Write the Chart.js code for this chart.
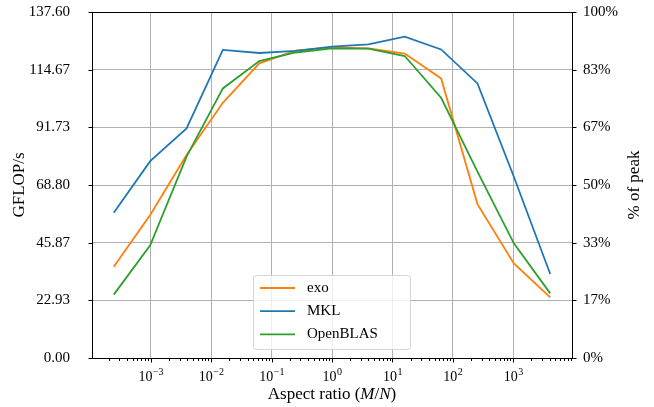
<!DOCTYPE html>
<html>
<head>
<meta charset="utf-8">
<title>GEMM aspect ratio</title>
<script src="https://cdn.jsdelivr.net/npm/chart.js@4.4.0/dist/chart.umd.min.js"></script>
<style>
    html, body { margin: 0; padding: 0; background: #fff; }
    #wrap { width: 654px; height: 407px; }
</style>
</head>
<body>
<div id="wrap"><canvas id="chart" width="654" height="407"></canvas></div>
<script>
// Aspect ratios M/N measured (powers of 4)
const aspectRatios = [0.000244, 0.000977, 0.00391, 0.0156, 0.0625, 0.25, 1, 4, 16, 64, 256, 1024, 4096];

// GFLOP/s per library
const exoGflops      = [36.3, 56.9, 80.7, 101.5, 117.2, 122.2, 123.5, 123.1, 121.1, 111.2, 61.2, 37.6, 24.1];
const mklGflops      = [57.8, 78.3, 91.3, 122.5, 121.3, 122.1, 123.8, 124.7, 127.8, 122.7, 109.2, 72.1, 33.4];
const openblasGflops = [25.2, 44.8, 80.1, 107.2, 118.1, 121.5, 123.1, 123.0, 120.1, 103.5, 74.1, 45.6, 25.7];

const seriesLabels = ['exo', 'MKL', 'OpenBLAS'];
const seriesColors = ['#ff7f0e', '#1f77b4', '#2ca02c'];

// Tick values
const gflopTicks = [0, 22.93, 45.87, 68.80, 91.73, 114.67, 137.60];
const peakTicks = [0, 16.67, 33.33, 50, 66.67, 83.33, 100];
const ratioTicks = [1e-3, 1e-2, 1e-1, 1, 10, 100, 1000];

const SERIF = '"Liberation Serif", "DejaVu Serif", serif';

/**
 * Draws spines, tick marks, the x tick labels (10^k), axis titles and legend
 */
const axisDecor = {
    id: 'axisDecor',
    afterDraw(chart) {
        const ctx = chart.ctx;
        const area = chart.chartArea;
        const xs = chart.scales.x;
        const yl = chart.scales.y;
        const yr = chart.scales.y2;
        const L = Math.round(area.left) + 0.5;
        const R = Math.round(area.right) + 0.5;
        const T = Math.round(area.top) + 0.5;
        const B = Math.round(area.bottom) + 0.5;

        ctx.save();
        ctx.strokeStyle = '#000';
        ctx.lineWidth = 1;

        // tick marks
        ctx.beginPath();
        gflopTicks.forEach(v => {
            const py = Math.round(yl.getPixelForValue(v)) + 0.5;
            ctx.moveTo(L - 4, py); ctx.lineTo(L, py);
        });
        peakTicks.forEach(v => {
            const py = Math.round(yr.getPixelForValue(v)) + 0.5;
            ctx.moveTo(R, py); ctx.lineTo(R + 4, py);
        });
        ratioTicks.forEach(v => {
            const px = Math.round(xs.getPixelForValue(v)) + 0.5;
            ctx.moveTo(px, B); ctx.lineTo(px, B + 4);
        });
        // minor log ticks
        for (let k = -4; k <= 3; k++) {
            for (let m = 2; m <= 9; m++) {
                const v = m * Math.pow(10, k);
                if (v < xs.min || v > xs.max) continue;
                const px = Math.round(xs.getPixelForValue(v)) + 0.5;
                ctx.moveTo(px, B); ctx.lineTo(px, B + 2.5);
            }
        }
        ctx.stroke();

        // spines
        ctx.strokeRect(L, T, R - L, B - T);

        // x tick labels as 10^k
        ctx.fillStyle = '#000';
        ctx.textBaseline = 'alphabetic';
        ctx.textAlign = 'left';
        ratioTicks.forEach(v => {
            const px = xs.getPixelForValue(v);
            const e = Math.round(Math.log10(v));
            const expText = e < 0 ? '\u2212' + Math.abs(e) : String(e);
            ctx.font = '14px ' + SERIF;
            const w1 = ctx.measureText('10').width;
            ctx.font = '10px ' + SERIF;
            const w2 = ctx.measureText(expText).width;
            const x0 = px - (w1 + w2) / 2;
            ctx.font = '14px ' + SERIF;
            ctx.fillText('10', x0, 381);
            ctx.font = '10px ' + SERIF;
            ctx.fillText(expText, x0 + w1 + 0.5, 375);
        });

        // x axis title with italic M/N
        const parts = [['Aspect ratio (', ''], ['M', 'italic '], ['/', ''], ['N', 'italic '], [')', '']];
        let total = 0;
        parts.forEach(p => { ctx.font = p[1] + '17px ' + SERIF; total += ctx.measureText(p[0]).width; });
        let cx = (area.left + area.right) / 2 - total / 2;
        parts.forEach(p => {
            ctx.font = p[1] + '17px ' + SERIF;
            ctx.fillText(p[0], cx, 399);
            cx += ctx.measureText(p[0]).width;
        });

        // y axis titles
        const midY = (area.top + area.bottom) / 2;
        ctx.font = '17px ' + SERIF;
        ctx.textAlign = 'center';
        ctx.textBaseline = 'middle';
        ctx.save();
        ctx.translate(20, midY);
        ctx.rotate(-Math.PI / 2);
        ctx.fillText('GFLOP/s', 0, 0);
        ctx.restore();
        ctx.save();
        ctx.translate(635, midY);
        ctx.rotate(-Math.PI / 2);
        ctx.fillText('% of peak', 0, 0);
        ctx.restore();

        // legend box
        const bx = 253.5, by = 275.5, bw = 157, bh = 74, r = 3;
        ctx.beginPath();
        ctx.moveTo(bx + r, by);
        ctx.arcTo(bx + bw, by, bx + bw, by + bh, r);
        ctx.arcTo(bx + bw, by + bh, bx, by + bh, r);
        ctx.arcTo(bx, by + bh, bx, by, r);
        ctx.arcTo(bx, by, bx + bw, by, r);
        ctx.closePath();
        ctx.fillStyle = 'rgba(255,255,255,0.8)';
        ctx.fill();
        ctx.strokeStyle = 'rgba(204,204,204,0.8)';
        ctx.stroke();

        ctx.textAlign = 'left';
        ctx.textBaseline = 'middle';
        ctx.font = '15px ' + SERIF;
        chart.data.datasets.forEach((ds, i) => {
            const ly = 288 + i * 23.2;
            ctx.strokeStyle = ds.borderColor;
            ctx.lineWidth = 1.8;
            ctx.beginPath();
            ctx.moveTo(260, ly); ctx.lineTo(295, ly);
            ctx.stroke();
            ctx.fillStyle = '#000';
            ctx.fillText(ds.label, 307, ly);
        });
        ctx.restore();
    }
};

function buildDataset(idx, values, order) {
    return {
        label: seriesLabels[idx],
        data: aspectRatios.map((r, i) => ({ x: r, y: values[i] })),
        borderColor: seriesColors[idx],
        backgroundColor: seriesColors[idx],
        borderWidth: 1.8,
        pointRadius: 0,
        tension: 0,
        fill: false,
        order: order
    };
}

// vertical axes: fixed width, no extra label padding
function fitVertical(width) {
    return scale => {
        scale.width = width;
        scale.paddingTop = 0;
        scale.paddingBottom = 0;
    };
}

const config = {
    type: 'line',
    data: {
        datasets: [
            buildDataset(0, exoGflops, 3),
            buildDataset(1, mklGflops, 2),
            buildDataset(2, openblasGflops, 1)
        ]
    },
    options: {
        responsive: false,
        animation: false,
        devicePixelRatio: 1,
        layout: { padding: { top: 12, left: 0, right: 0, bottom: 0 }, autoPadding: false },
        plugins: {
            legend: { display: false },
            title: { display: false },
            tooltip: { enabled: false }
        },
        scales: {
            x: {
                type: 'logarithmic',
                min: 1.064e-4,
                max: 9397,
                afterBuildTicks: scale => { scale.ticks = ratioTicks.map(v => ({ value: v })); },
                afterFit: scale => {
                    scale.height = 49;
                    scale.paddingLeft = 0;
                    scale.paddingRight = 0;
                },
                ticks: { display: false },
                grid: { color: '#b0b0b0', lineWidth: 1, drawTicks: false },
                border: { display: false }
            },
            y: {
                type: 'linear',
                position: 'left',
                min: 0,
                max: 137.6,
                afterBuildTicks: scale => { scale.ticks = gflopTicks.map(v => ({ value: v })); },
                afterFit: fitVertical(92),
                ticks: {
                    autoSkip: false,
                    padding: 22,
                    color: '#000',
                    font: { family: SERIF, size: 15 },
                    callback: v => Number(v).toFixed(2)
                },
                grid: { color: '#b0b0b0', lineWidth: 1, drawTicks: false },
                border: { display: false }
            },
            y2: {
                type: 'linear',
                position: 'right',
                min: 0,
                max: 100,
                afterBuildTicks: scale => { scale.ticks = peakTicks.map(v => ({ value: v })); },
                afterFit: fitVertical(82),
                ticks: {
                    autoSkip: false,
                    padding: 11,
                    color: '#000',
                    font: { family: SERIF, size: 15 },
                    callback: v => Math.round(v) + '%'
                },
                grid: { display: false, drawTicks: false },
                border: { display: false }
            }
        }
    },
    plugins: [axisDecor]
};

new Chart(document.getElementById('chart'), config);
</script>
</body>
</html>
